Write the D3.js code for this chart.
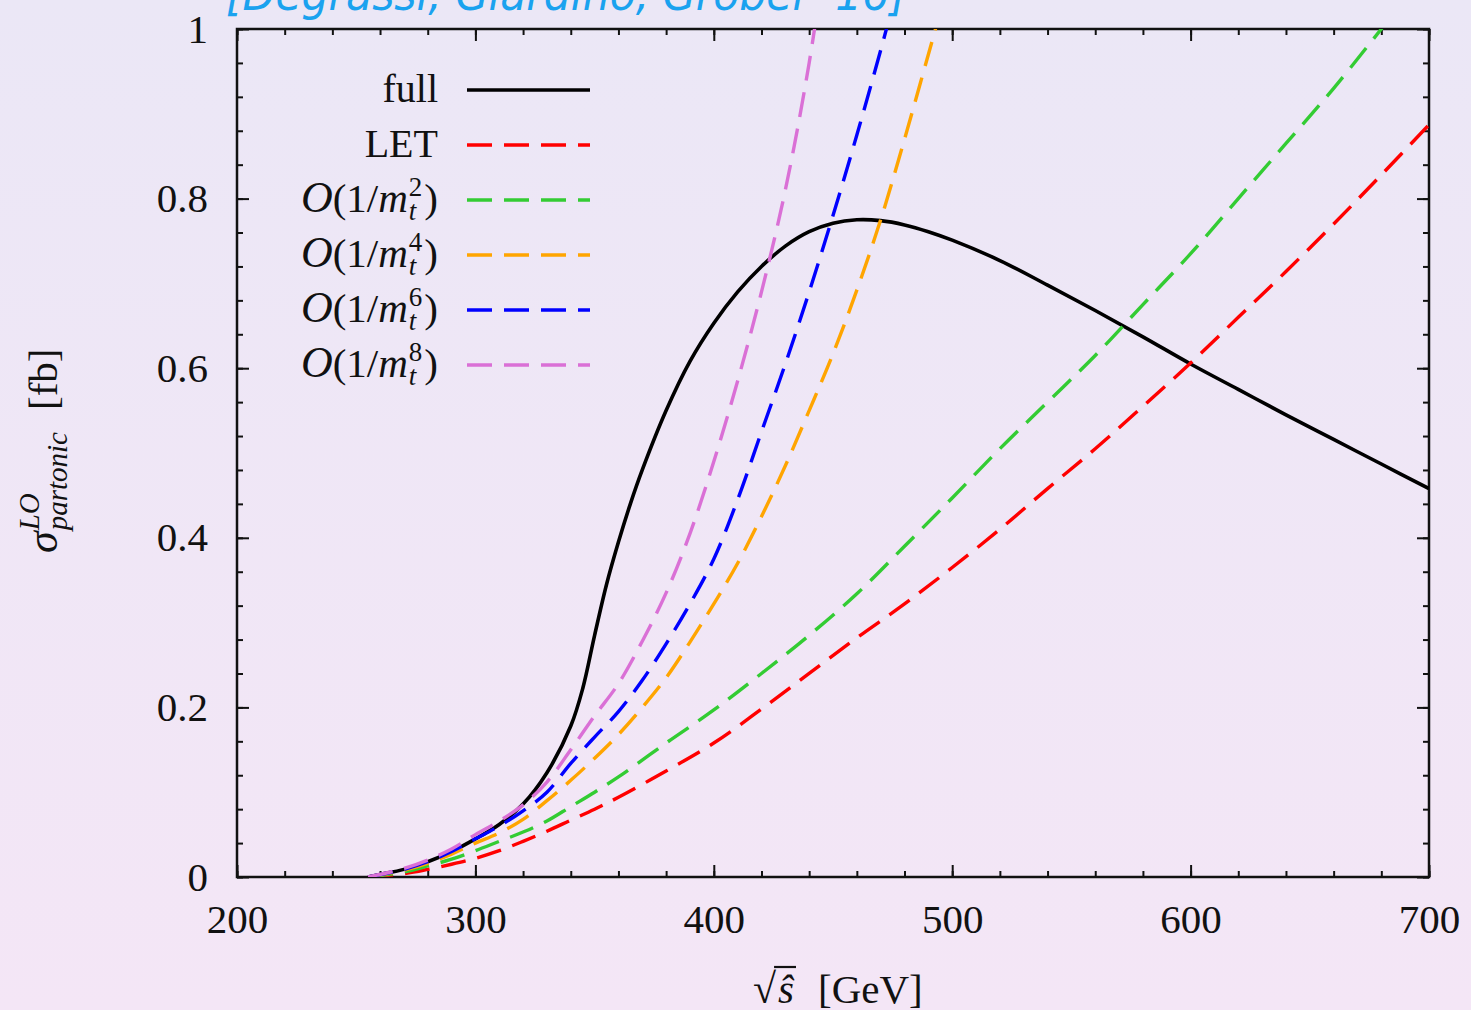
<!DOCTYPE html>
<html>
<head>
<meta charset="utf-8">
<script src="https://cdn.jsdelivr.net/npm/d3@7"></script>
<style>
  html, body { margin: 0; padding: 0; background: #efe6f6; }
  svg { display: block; }
  text { font-family: "Liberation Serif", "Times New Roman", serif; }
</style>
</head>
<body>
<svg id="chart" width="1471" height="1010"></svg>
<script>
// ---- data ----
const fullX = [255,260,270,280,290,300,310,320,330,340,345,350,355,360,365,370,380,390,400,410,420,430,440,450,460,470,480,490,500,520,540,560,580,600,620,640,660,680,700];
const fullY = [0,0.003,0.009,0.018,0.03,0.045,0.062,0.086,0.123,0.178,0.222,0.285,0.345,0.395,0.44,0.48,0.55,0.608,0.653,0.69,0.72,0.744,0.761,0.771,0.775,0.774,0.769,0.761,0.751,0.727,0.698,0.668,0.637,0.605,0.575,0.545,0.516,0.487,0.458];

const letX = [255,270,280,290,300,310,320,330,340,350,360,380,400,420,440,460,480,500,520,540,560,580,600,620,640,660,680,700];
const letY = [0,0.004,0.009,0.015,0.022,0.031,0.042,0.054,0.067,0.08,0.094,0.125,0.158,0.198,0.24,0.282,0.322,0.365,0.41,0.458,0.505,0.555,0.606,0.66,0.714,0.77,0.828,0.887];

const o2X = [255,270,280,290,300,310,320,330,340,350,360,380,400,420,440,460,480,500,520,540,560,580,600,620,640,660,680,690];
const o2Y = [0,0.006,0.013,0.021,0.031,0.042,0.053,0.066,0.083,0.1,0.118,0.158,0.197,0.24,0.285,0.334,0.39,0.447,0.505,0.56,0.615,0.675,0.735,0.8,0.865,0.93,1.0,1.035];

const o4X = [255,270,280,290,300,310,320,330,340,350,360,370,380,390,400,410,420,430,440,450,460,470,480,490,500];
const o4Y = [0,0.008,0.016,0.027,0.04,0.052,0.068,0.09,0.114,0.14,0.168,0.2,0.235,0.277,0.322,0.37,0.425,0.485,0.55,0.617,0.692,0.775,0.87,0.97,1.07];

const o6X = [255,270,280,290,300,310,320,330,340,350,360,370,380,390,400,410,420,430,440,450,460,470,480];
const o6Y = [0,0.009,0.018,0.03,0.045,0.06,0.078,0.1,0.134,0.165,0.195,0.232,0.275,0.322,0.375,0.445,0.525,0.605,0.69,0.78,0.875,0.975,1.08];

const o8X = [255,270,280,290,300,310,320,330,340,350,360,370,380,390,400,410,420,430,440,450];
const o8Y = [0,0.01,0.02,0.033,0.05,0.066,0.085,0.112,0.15,0.19,0.228,0.278,0.335,0.405,0.49,0.585,0.69,0.81,0.96,1.15];

const seriesNames = ["full", "LET", "O2", "O4", "O6", "O8"];
const seriesColors = ["#000000", "#ff0000", "#33cc33", "#ffa500", "#0000ff", "#da70d6"];
const seriesPowers = [null, null, "2", "4", "6", "8"];

const xTicks = [200, 300, 400, 500, 600, 700];
const xTickLabels = ["200", "300", "400", "500", "600", "700"];
const yTicks = [0, 0.2, 0.4, 0.6, 0.8, 1];
const yTickLabels = ["0", "0.2", "0.4", "0.6", "0.8", "1"];

const citation = "[Degrassi, Giardino, Gröber '16]";

// ---- layout ----
const W = 1471, H = 1010;
const L = 237, R = 1429, T = 29, B = 877;
const svg = d3.select("#chart");

const defs = svg.append("defs");
const grad = defs.append("linearGradient").attr("id", "bg").attr("x1", 0).attr("y1", 0).attr("x2", 0).attr("y2", 1);
grad.append("stop").attr("offset", "0%").attr("stop-color", "#ebe7f6");
grad.append("stop").attr("offset", "100%").attr("stop-color", "#f4e6f6");
defs.append("clipPath").attr("id", "plotclip").append("rect")
  .attr("x", L).attr("y", T).attr("width", R - L).attr("height", B - T);

svg.append("rect").attr("width", W).attr("height", H).attr("fill", "url(#bg)");

// citation (cut off at top)
svg.append("text").attr("x", 226).attr("y", 10)
  .attr("fill", "#1aa2ef").attr("font-size", 46).attr("font-style", "italic")
  .style("font-family", "'DejaVu Sans', sans-serif")
  .attr("textLength", 680).attr("lengthAdjust", "spacingAndGlyphs")
  .text(citation);

const x = d3.scaleLinear().domain([200, 700]).range([L, R]);
const y = d3.scaleLinear().domain([0, 1]).range([B, T]);

const fontSize = 41;
function styleAxis(g) {
  g.select(".domain").remove();
  g.selectAll(".tick line").attr("stroke", "#111").attr("stroke-width", 2);
  g.selectAll(".tick text").attr("font-size", fontSize).attr("fill", "#111")
    .style("font-family", "'Liberation Serif', serif");
}
const xMinor = d3.range(200, 701, 20);
const yMinor = d3.range(0, 1.0001, 0.04);

// minor ticks
svg.append("g").attr("transform", `translate(0,${B})`)
  .call(d3.axisBottom(x).tickValues(xMinor).tickSize(-6).tickFormat("")).call(styleAxis);
svg.append("g").attr("transform", `translate(0,${T})`)
  .call(d3.axisTop(x).tickValues(xMinor).tickSize(-6).tickFormat("")).call(styleAxis);
svg.append("g").attr("transform", `translate(${L},0)`)
  .call(d3.axisLeft(y).tickValues(yMinor).tickSize(-6).tickFormat("")).call(styleAxis);
svg.append("g").attr("transform", `translate(${R},0)`)
  .call(d3.axisRight(y).tickValues(yMinor).tickSize(-6).tickFormat("")).call(styleAxis);

// major ticks with labels
svg.append("g").attr("transform", `translate(0,${B})`)
  .call(d3.axisBottom(x).tickValues(xTicks).tickSize(-12).tickPadding(27)
    .tickFormat((d, i) => xTickLabels[i])).call(styleAxis);
svg.append("g").attr("transform", `translate(0,${T})`)
  .call(d3.axisTop(x).tickValues(xTicks).tickSize(-12).tickFormat("")).call(styleAxis);
svg.append("g").attr("transform", `translate(${L},0)`)
  .call(d3.axisLeft(y).tickValues(yTicks).tickSize(-12).tickPadding(29)
    .tickFormat((d, i) => yTickLabels[i])).call(styleAxis);
svg.append("g").attr("transform", `translate(${R},0)`)
  .call(d3.axisRight(y).tickValues(yTicks).tickSize(-12).tickFormat("")).call(styleAxis);

// frame
svg.append("rect").attr("x", L).attr("y", T).attr("width", R - L).attr("height", B - T)
  .attr("fill", "none").attr("stroke", "#111").attr("stroke-width", 2.5);

// curves
const seriesData = [
  d3.zip(fullX, fullY), d3.zip(letX, letY), d3.zip(o2X, o2Y),
  d3.zip(o4X, o4Y), d3.zip(o6X, o6Y), d3.zip(o8X, o8Y)
];
const line = d3.line().x(d => x(d[0])).y(d => y(d[1])).curve(d3.curveCatmullRom.alpha(0.5));
const plot = svg.append("g").attr("clip-path", "url(#plotclip)");
seriesData.forEach((pts, i) => {
  plot.append("path").datum(pts)
    .attr("d", line)
    .attr("fill", "none")
    .attr("stroke", seriesColors[i])
    .attr("stroke-width", i === 0 ? 3.6 : 3.4)
    .attr("stroke-dasharray", i === 0 ? null : "25,12");
});

// legend
const legX0 = 467, legX1 = 590, labelRight = 438;
const rowY = i => 90 + i * 55;
seriesNames.forEach((name, i) => {
  const ry = rowY(i);
  svg.append("line").attr("x1", legX0).attr("x2", legX1).attr("y1", ry).attr("y2", ry)
    .attr("stroke", seriesColors[i]).attr("stroke-width", i === 0 ? 3.6 : 3.4)
    .attr("stroke-dasharray", i === 0 ? null : "25,12");
  const g = svg.append("g");
  if (seriesPowers[i] === null) {
    g.append("text").attr("x", labelRight).attr("y", ry + 12)
      .attr("text-anchor", "end").attr("font-size", 40).attr("fill", "#111").text(name);
  } else {
    const base = ry + 12;
    const t1 = g.append("text").attr("x", 0).attr("y", base).attr("font-size", 41).attr("fill", "#111");
    t1.append("tspan").attr("font-style", "italic").attr("font-size", 44).text("O");
    t1.append("tspan").text("(1/");
    t1.append("tspan").attr("font-style", "italic").text("m");
    const w1 = t1.node().getComputedTextLength();
    const sup = g.append("text").attr("x", w1 + 1).attr("y", base - 16).attr("font-size", 27)
      .attr("fill", "#111").text(seriesPowers[i]);
    const sub = g.append("text").attr("x", w1 + 1).attr("y", base + 8).attr("font-size", 27)
      .attr("font-style", "italic").attr("fill", "#111").text("t");
    const w2 = Math.max(sup.node().getComputedTextLength(), sub.node().getComputedTextLength());
    const t3 = g.append("text").attr("x", w1 + w2 + 3).attr("y", base).attr("font-size", 41)
      .attr("fill", "#111").text(")");
    const total = w1 + w2 + 3 + t3.node().getComputedTextLength();
    g.attr("transform", `translate(${labelRight - total},0)`);
  }
});

// y-axis label
const yl = svg.append("g").attr("transform", "translate(57,553) rotate(-90)");
const sig = yl.append("text").attr("x", 0).attr("y", 0).attr("font-size", 44)
  .attr("font-style", "italic").attr("fill", "#111").text("σ");
const sw = sig.node().getComputedTextLength();
yl.append("text").attr("x", sw + 1).attr("y", -18).attr("font-size", 29)
  .attr("font-style", "italic").attr("fill", "#111").text("LO");
yl.append("text").attr("x", sw + 1).attr("y", 10).attr("font-size", 29)
  .attr("font-style", "italic").attr("fill", "#111").text("partonic");
yl.append("text").attr("x", 143).attr("y", 0).attr("font-size", 41)
  .attr("fill", "#111").text("[fb]");

// x-axis label
const xl = svg.append("g").attr("transform", "translate(753,1003)");
const rt = xl.append("text").attr("x", 0).attr("y", 0).attr("font-size", 42).attr("fill", "#111").text("√");
const rw = rt.node().getComputedTextLength();
const sh = xl.append("text").attr("x", rw + 2).attr("y", 0).attr("font-size", 41)
  .attr("font-style", "italic").attr("fill", "#111").text("ŝ");
const shw = sh.node().getComputedTextLength();
xl.append("line").attr("x1", rw - 2).attr("x2", rw + shw + 4).attr("y1", -36).attr("y2", -36)
  .attr("stroke", "#111").attr("stroke-width", 2.2);
xl.append("text").attr("x", 65).attr("y", 0).attr("font-size", 41).attr("fill", "#111").text("[GeV]");
</script>
</body>
</html>
